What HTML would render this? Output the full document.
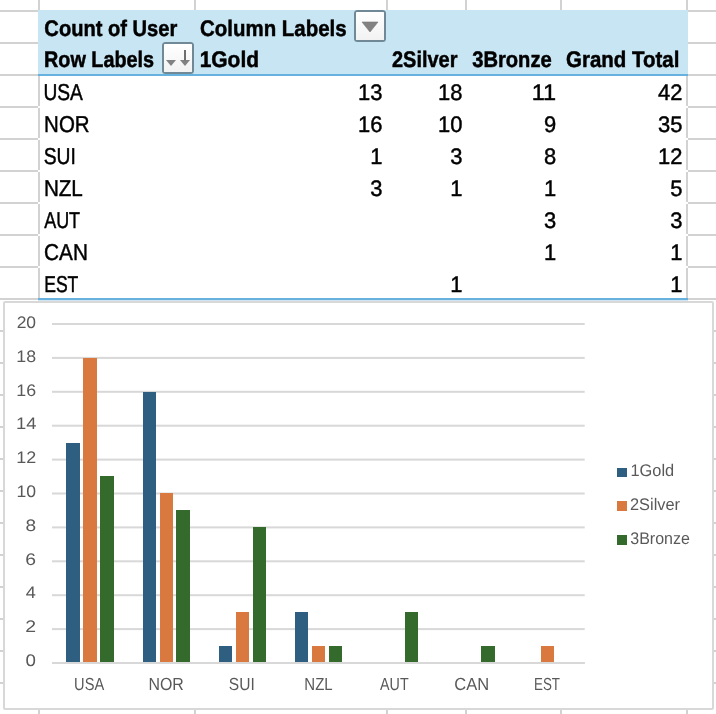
<!DOCTYPE html><html><head><meta charset="utf-8"><title>Pivot</title>
<style>html,body{margin:0;padding:0;background:#fff;overflow:hidden}svg{display:block}text{font-family:"Liberation Sans",sans-serif;text-rendering:geometricPrecision}.b{font-weight:bold;font-size:22.5px;fill:#000;stroke:#000;stroke-width:.5px}.r{font-size:23px;fill:#000;stroke:#000;stroke-width:.45px}.n{font-size:22.5px;fill:#000;text-anchor:end;stroke:#000;stroke-width:.45px}.ax{font-size:17.5px;fill:#595959}.ay{font-size:16.7px;fill:#595959}.lg{font-size:16.8px;fill:#595959}</style></head><body>
<svg width="716" height="714" viewBox="0 0 716 714">
<defs><linearGradient id="bg" x1="0" y1="0" x2="0" y2="1"><stop offset="0" stop-color="#fff"/><stop offset="1" stop-color="#f2f2f2"/></linearGradient></defs>
<rect width="716" height="714" fill="#fff"/>
<rect x="0" y="10" width="716" height="2" fill="#d2d2d2"/>
<rect x="0" y="42" width="716" height="2" fill="#d2d2d2"/>
<rect x="0" y="74" width="716" height="2" fill="#d2d2d2"/>
<rect x="0" y="106" width="716" height="2" fill="#d2d2d2"/>
<rect x="0" y="138" width="716" height="2" fill="#d2d2d2"/>
<rect x="0" y="170" width="716" height="2" fill="#d2d2d2"/>
<rect x="0" y="202" width="716" height="2" fill="#d2d2d2"/>
<rect x="0" y="234" width="716" height="2" fill="#d2d2d2"/>
<rect x="0" y="266" width="716" height="2" fill="#d2d2d2"/>
<rect x="0" y="298" width="716" height="2" fill="#d2d2d2"/>
<rect x="0" y="330" width="716" height="2" fill="#d2d2d2"/>
<rect x="0" y="362" width="716" height="2" fill="#d2d2d2"/>
<rect x="0" y="394" width="716" height="2" fill="#d2d2d2"/>
<rect x="0" y="426" width="716" height="2" fill="#d2d2d2"/>
<rect x="0" y="458" width="716" height="2" fill="#d2d2d2"/>
<rect x="0" y="490" width="716" height="2" fill="#d2d2d2"/>
<rect x="0" y="522" width="716" height="2" fill="#d2d2d2"/>
<rect x="0" y="554" width="716" height="2" fill="#d2d2d2"/>
<rect x="0" y="586" width="716" height="2" fill="#d2d2d2"/>
<rect x="0" y="618" width="716" height="2" fill="#d2d2d2"/>
<rect x="0" y="650" width="716" height="2" fill="#d2d2d2"/>
<rect x="0" y="682" width="716" height="2" fill="#d2d2d2"/>
<rect x="0" y="714" width="716" height="2" fill="#d2d2d2"/>
<rect x="38" y="0" width="2" height="714" fill="#d2d2d2"/>
<rect x="194" y="0" width="2" height="714" fill="#d2d2d2"/>
<rect x="386" y="0" width="2" height="714" fill="#d2d2d2"/>
<rect x="465" y="0" width="2" height="714" fill="#d2d2d2"/>
<rect x="560" y="0" width="2" height="714" fill="#d2d2d2"/>
<rect x="686" y="0" width="2" height="714" fill="#d2d2d2"/>
<rect x="40" y="76" width="646" height="222" fill="#fff"/>
<rect x="38" y="106" width="2" height="2" fill="#fff"/><rect x="686" y="106" width="2" height="2" fill="#fff"/>
<rect x="38" y="138" width="2" height="2" fill="#fff"/><rect x="686" y="138" width="2" height="2" fill="#fff"/>
<rect x="38" y="170" width="2" height="2" fill="#fff"/><rect x="686" y="170" width="2" height="2" fill="#fff"/>
<rect x="38" y="202" width="2" height="2" fill="#fff"/><rect x="686" y="202" width="2" height="2" fill="#fff"/>
<rect x="38" y="234" width="2" height="2" fill="#fff"/><rect x="686" y="234" width="2" height="2" fill="#fff"/>
<rect x="38" y="266" width="2" height="2" fill="#fff"/><rect x="686" y="266" width="2" height="2" fill="#fff"/>
<rect x="38" y="10" width="650" height="64" fill="#c8e5f3"/>
<rect x="38" y="74" width="650" height="2" fill="#66b1de"/>
<rect x="38" y="298" width="650" height="2" fill="#66b1de"/>
<rect x="3" y="300" width="711" height="410" fill="#fff"/>
<rect x="38" y="300" width="650" height="1" fill="#d0e5f1"/>
<rect x="354" y="10" width="32" height="32" rx="3.5" fill="#718897"/>
<rect x="356" y="12" width="28" height="28" rx=".6" fill="url(#bg)"/>
<path d="M362 22 h16 l-8 10 z" fill="#828282" stroke="#757575" stroke-width=".6" stroke-linejoin="round"/>
<rect x="162" y="42" width="32" height="32" rx="3.5" fill="#718897"/>
<rect x="164" y="44" width="28" height="28" rx=".6" fill="url(#bg)"/>
<path d="M166 60 h10 l-5 6 z" fill="#828282"/>
<path d="M180 60 h10 l-5 6 z" fill="#828282"/>
<rect x="184" y="50" width="2" height="10.5" fill="#6e6e6e"/>
<text class="n" x="382.50" y="99.50" textLength="24.39" lengthAdjust="spacingAndGlyphs">13</text>
<text class="n" x="462.50" y="99.50" textLength="24.39" lengthAdjust="spacingAndGlyphs">18</text>
<text class="n" x="556.20" y="99.50" textLength="24.39" lengthAdjust="spacingAndGlyphs">11</text>
<text class="n" x="682.40" y="99.50" textLength="24.39" lengthAdjust="spacingAndGlyphs">42</text>
<text class="n" x="382.50" y="131.50" textLength="24.39" lengthAdjust="spacingAndGlyphs">16</text>
<text class="n" x="462.50" y="131.50" textLength="24.39" lengthAdjust="spacingAndGlyphs">10</text>
<text class="n" x="556.20" y="131.50" textLength="12.20" lengthAdjust="spacingAndGlyphs">9</text>
<text class="n" x="682.40" y="131.50" textLength="24.39" lengthAdjust="spacingAndGlyphs">35</text>
<text class="n" x="382.50" y="163.50" textLength="12.20" lengthAdjust="spacingAndGlyphs">1</text>
<text class="n" x="462.50" y="163.50" textLength="12.20" lengthAdjust="spacingAndGlyphs">3</text>
<text class="n" x="556.20" y="163.50" textLength="12.20" lengthAdjust="spacingAndGlyphs">8</text>
<text class="n" x="682.40" y="163.50" textLength="24.39" lengthAdjust="spacingAndGlyphs">12</text>
<text class="n" x="382.50" y="195.50" textLength="12.20" lengthAdjust="spacingAndGlyphs">3</text>
<text class="n" x="462.50" y="195.50" textLength="12.20" lengthAdjust="spacingAndGlyphs">1</text>
<text class="n" x="556.20" y="195.50" textLength="12.20" lengthAdjust="spacingAndGlyphs">1</text>
<text class="n" x="682.40" y="195.50" textLength="12.20" lengthAdjust="spacingAndGlyphs">5</text>
<text class="n" x="556.20" y="227.50" textLength="12.20" lengthAdjust="spacingAndGlyphs">3</text>
<text class="n" x="682.40" y="227.50" textLength="12.20" lengthAdjust="spacingAndGlyphs">3</text>
<text class="n" x="556.20" y="259.50" textLength="12.20" lengthAdjust="spacingAndGlyphs">1</text>
<text class="n" x="682.40" y="259.50" textLength="12.20" lengthAdjust="spacingAndGlyphs">1</text>
<text class="n" x="462.50" y="291.50" textLength="12.20" lengthAdjust="spacingAndGlyphs">1</text>
<text class="n" x="682.40" y="291.50" textLength="12.20" lengthAdjust="spacingAndGlyphs">1</text>
<rect x="4" y="302" width="709" height="407" rx="1" fill="#fff" stroke="#d8d8d8" stroke-width="2"/>
<rect x="52" y="662.00" width="532.7" height="2" fill="#d8d8d8"/>
<rect x="52" y="628.10" width="532.7" height="2" fill="#d8d8d8"/>
<rect x="52" y="594.20" width="532.7" height="2" fill="#d8d8d8"/>
<rect x="52" y="560.30" width="532.7" height="2" fill="#d8d8d8"/>
<rect x="52" y="526.40" width="532.7" height="2" fill="#d8d8d8"/>
<rect x="52" y="492.50" width="532.7" height="2" fill="#d8d8d8"/>
<rect x="52" y="458.60" width="532.7" height="2" fill="#d8d8d8"/>
<rect x="52" y="424.70" width="532.7" height="2" fill="#d8d8d8"/>
<rect x="52" y="390.80" width="532.7" height="2" fill="#d8d8d8"/>
<rect x="52" y="356.90" width="532.7" height="2" fill="#d8d8d8"/>
<rect x="52" y="323.00" width="532.7" height="2" fill="#d8d8d8"/>
<rect x="66" y="443.00" width="14" height="219.50" fill="#2e5f80"/>
<rect x="83" y="358.00" width="14" height="304.50" fill="#d97940"/>
<rect x="100" y="476.00" width="14" height="186.50" fill="#356a2d"/>
<rect x="143" y="392.00" width="13" height="270.50" fill="#2e5f80"/>
<rect x="160" y="493.00" width="13" height="169.50" fill="#d97940"/>
<rect x="176" y="510.00" width="14" height="152.50" fill="#356a2d"/>
<rect x="219" y="646.00" width="13" height="16.50" fill="#2e5f80"/>
<rect x="236" y="612.00" width="13" height="50.50" fill="#d97940"/>
<rect x="253" y="527.00" width="13" height="135.50" fill="#356a2d"/>
<rect x="295" y="612.00" width="13" height="50.50" fill="#2e5f80"/>
<rect x="312" y="646.00" width="13" height="16.50" fill="#d97940"/>
<rect x="329" y="646.00" width="13" height="16.50" fill="#356a2d"/>
<rect x="405" y="612.00" width="13" height="50.50" fill="#356a2d"/>
<rect x="481" y="646.00" width="14" height="16.50" fill="#356a2d"/>
<rect x="541" y="646.00" width="13" height="16.50" fill="#d97940"/>
<rect x="52" y="662.00" width="532.7" height="2" fill="#d8d8d8"/>
<rect x="617" y="468" width="10" height="9" fill="#2e5f80"/>
<rect x="617" y="501" width="10" height="10" fill="#d97940"/>
<rect x="617" y="535" width="10" height="10" fill="#356a2d"/>
<text class="b" x="44.36" y="35.50" textLength="132.96" lengthAdjust="spacingAndGlyphs">Count of User</text>
<text class="b" x="44.05" y="67.45" textLength="110.06" lengthAdjust="spacingAndGlyphs">Row Labels</text>
<text class="b" x="200.09" y="35.50" textLength="146.54" lengthAdjust="spacingAndGlyphs">Column Labels</text>
<text class="b" x="199.70" y="67.45" textLength="59.32" lengthAdjust="spacingAndGlyphs">1Gold</text>
<text class="b" x="392.03" y="67.45" textLength="65.41" lengthAdjust="spacingAndGlyphs">2Silver</text>
<text class="b" x="472.24" y="67.45" textLength="79.47" lengthAdjust="spacingAndGlyphs">3Bronze</text>
<text class="b" x="566.06" y="67.45" textLength="113.28" lengthAdjust="spacingAndGlyphs">Grand Total</text>
<text class="r" x="43.41" y="99.70" textLength="39.44" lengthAdjust="spacingAndGlyphs">USA</text>
<text class="r" x="44.12" y="131.70" textLength="45.50" lengthAdjust="spacingAndGlyphs">NOR</text>
<text class="r" x="43.65" y="163.70" textLength="32.13" lengthAdjust="spacingAndGlyphs">SUI</text>
<text class="r" x="43.88" y="195.70" textLength="38.97" lengthAdjust="spacingAndGlyphs">NZL</text>
<text class="r" x="44.15" y="227.70" textLength="35.95" lengthAdjust="spacingAndGlyphs">AUT</text>
<text class="r" x="44.11" y="259.70" textLength="43.76" lengthAdjust="spacingAndGlyphs">CAN</text>
<text class="r" x="44.17" y="291.70" textLength="34.17" lengthAdjust="spacingAndGlyphs">EST</text>
<text class="ax" x="74.11" y="690.00" textLength="30.03" lengthAdjust="spacingAndGlyphs">USA</text>
<text class="ax" x="148.43" y="690.00" textLength="35.35" lengthAdjust="spacingAndGlyphs">NOR</text>
<text class="ax" x="228.83" y="690.00" textLength="25.95" lengthAdjust="spacingAndGlyphs">SUI</text>
<text class="ax" x="304.36" y="690.00" textLength="28.29" lengthAdjust="spacingAndGlyphs">NZL</text>
<text class="ax" x="380.09" y="690.00" textLength="28.59" lengthAdjust="spacingAndGlyphs">AUT</text>
<text class="ax" x="454.32" y="690.00" textLength="34.83" lengthAdjust="spacingAndGlyphs">CAN</text>
<text class="ax" x="533.99" y="690.00" textLength="26.03" lengthAdjust="spacingAndGlyphs">EST</text>
<text class="lg" x="630.40" y="475.80" textLength="43.78" lengthAdjust="spacingAndGlyphs">1Gold</text>
<text class="lg" x="629.99" y="509.70" textLength="50.06" lengthAdjust="spacingAndGlyphs">2Silver</text>
<text class="lg" x="630.30" y="543.60" textLength="59.59" lengthAdjust="spacingAndGlyphs">3Bronze</text>
<text class="ay" x="25.62" y="666.00" textLength="10.41" lengthAdjust="spacingAndGlyphs">0</text>
<text class="ay" x="25.25" y="632.00" textLength="10.83" lengthAdjust="spacingAndGlyphs">2</text>
<text class="ay" x="25.84" y="598.00" textLength="10.09" lengthAdjust="spacingAndGlyphs">4</text>
<text class="ay" x="25.37" y="565.00" textLength="10.79" lengthAdjust="spacingAndGlyphs">6</text>
<text class="ay" x="25.52" y="531.00" textLength="10.62" lengthAdjust="spacingAndGlyphs">8</text>
<text class="ay" x="16.40" y="497.00" textLength="19.59" lengthAdjust="spacingAndGlyphs">10</text>
<text class="ay" x="16.31" y="463.00" textLength="19.98" lengthAdjust="spacingAndGlyphs">12</text>
<text class="ay" x="15.98" y="429.00" textLength="20.41" lengthAdjust="spacingAndGlyphs">14</text>
<text class="ay" x="16.35" y="396.00" textLength="19.83" lengthAdjust="spacingAndGlyphs">16</text>
<text class="ay" x="16.36" y="362.00" textLength="19.79" lengthAdjust="spacingAndGlyphs">18</text>
<text class="ay" x="16.67" y="328.00" textLength="19.43" lengthAdjust="spacingAndGlyphs">20</text>
</svg></body></html>
